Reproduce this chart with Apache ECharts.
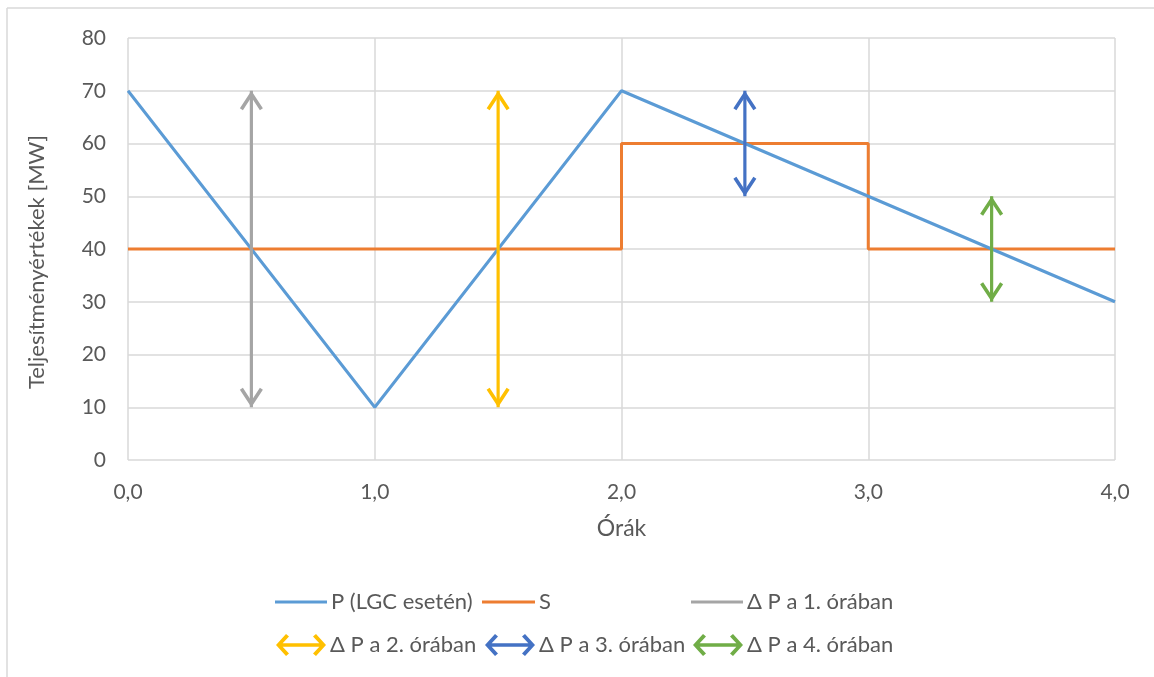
<!DOCTYPE html>
<html>
<head>
<meta charset="utf-8">
<script src="https://cdn.jsdelivr.net/npm/echarts@6/dist/echarts.min.js"></script>
<style>
html,body{margin:0;padding:0;background:#fff;}
#chart{width:1154px;height:677px;}
</style>
</head>
<body>
<div id="chart"></div>
<script>
// ---- data ----
var seriesNames = ['P (LGC esetén)', 'S', 'Δ P a 1. órában', 'Δ P a 2. órában', 'Δ P a 3. órában', 'Δ P a 4. órában'];
var pData = [[0, 70], [1, 10], [2, 70], [4, 30]];
var sData = [[0, 40], [2, 40], [2, 60], [3, 60], [3, 40], [4, 40]];
var arrow1 = [[0.5, 10], [0.5, 70]];
var arrow2 = [[1.5, 10], [1.5, 70]];
var arrow3 = [[2.5, 50], [2.5, 70]];
var arrow4 = [[3.5, 30], [3.5, 50]];
var xTickLabels = ['0,0', '1,0', '2,0', '3,0', '4,0'];
var yTickLabels = ['0', '10', '20', '30', '40', '50', '60', '70', '80'];
var xTitle = 'Órák';
var yTitle = 'Teljesítményértékek [MW]';

var colors = ['#5b9bd5', '#ed7d31', '#a5a5a5', '#ffc000', '#4472c4', '#70ad47'];
var FONT = 'Lato';
var TXT = '#595959';
var GRIDC = '#d9d9d9';

var chevron = 'path://M11.5,0 L23,17.5 L20,19.5 L11.5,6.5 L3,19.5 L0,17.5 Z';
var dblArrow = 'path://M0,11 L10,0 L13,2.6 L5,11 L13,19.4 L10,22 Z M50,11 L40,22 L37,19.4 L45,11 L37,2.6 L40,0 Z M2,9.3 L48,9.3 L48,12.7 L2,12.7 Z';

function arrowSeries(name, pts, color) {
  return {
    name: name, type: 'line', color: color,
    lineStyle: {width: 3.2, color: color},
    itemStyle: {color: color},
    symbol: chevron, symbolSize: [23, 19.5], symbolKeepAspect: false,
    showSymbol: true, silent: true,
    data: [
      {value: pts[0], symbolRotate: 180, symbolOffset: [0, '-50%']},
      {value: pts[1], symbolRotate: 0, symbolOffset: [0, '50%']}
    ],
    z: 3
  };
}

function legendAt(name, left, top, icon, w, h) {
  return {
    data: [{name: name, icon: icon}],
    left: left, top: top, padding: 0,
    itemWidth: w, itemHeight: h, itemGap: 0,
    selectedMode: false,
    textStyle: {fontFamily: FONT, fontSize: 22, lineHeight: 24, color: TXT, padding: [0, 0, 0, -1]}
  };
}

var chart = echarts.init(document.getElementById('chart'));
chart.setOption({
  animation: false,
  backgroundColor: '#fff',
  textStyle: {fontFamily: FONT},
  grid: {left: 128, right: 39, top: 38, bottom: 217, containLabel: false},
  xAxis: {
    type: 'value', min: 0, max: 4, interval: 1,
    name: xTitle, nameLocation: 'middle', nameGap: 57,
    nameTextStyle: {fontFamily: FONT, fontSize: 23, color: TXT},
    axisLine: {show: false}, axisTick: {show: false},
    axisLabel: {fontFamily: FONT, fontSize: 21, color: TXT, margin: 22,
      formatter: function (v) { return xTickLabels[Math.round(v)]; }},
    splitLine: {show: true, lineStyle: {color: GRIDC, width: 1.5}}
  },
  yAxis: {
    type: 'value', min: 0, max: 80, interval: 10,
    name: yTitle, nameLocation: 'middle', nameGap: 80, nameRotate: 90,
    nameTextStyle: {fontFamily: FONT, fontSize: 22, color: TXT, padding: [0, 26, 0, 0]},
    axisLine: {show: false}, axisTick: {show: false},
    axisLabel: {fontFamily: FONT, fontSize: 21, color: TXT, margin: 22,
      formatter: function (v) { return yTickLabels[Math.round(v / 10)]; }},
    splitLine: {show: true, lineStyle: {color: GRIDC, width: 1.5}}
  },
  legend: [
    legendAt(seriesNames[0], 275, 590, 'rect', 52, 3),
    legendAt(seriesNames[1], 482, 590, 'rect', 53, 3),
    legendAt(seriesNames[2], 691, 590, 'rect', 52, 3),
    legendAt(seriesNames[3], 276, 633, dblArrow, 50, 22),
    legendAt(seriesNames[4], 485, 633, dblArrow, 50, 22),
    legendAt(seriesNames[5], 693, 633, dblArrow, 50, 22)
  ],
  graphic: [
    {type: 'line', shape: {x1: 7, y1: 8, x2: 1154, y2: 8}, style: {stroke: GRIDC, lineWidth: 1.5}, silent: true},
    {type: 'line', shape: {x1: 7, y1: 8, x2: 7, y2: 677}, style: {stroke: GRIDC, lineWidth: 1.5}, silent: true}
  ],
  series: [
    {name: seriesNames[0], type: 'line', color: colors[0], data: pData, showSymbol: false,
      lineStyle: {width: 3, color: colors[0]}, z: 2},
    {name: seriesNames[1], type: 'line', color: colors[1], data: sData, showSymbol: false,
      lineStyle: {width: 3, color: colors[1]}, z: 1},
    arrowSeries(seriesNames[2], arrow1, colors[2]),
    arrowSeries(seriesNames[3], arrow2, colors[3]),
    arrowSeries(seriesNames[4], arrow3, colors[4]),
    arrowSeries(seriesNames[5], arrow4, colors[5])
  ]
});
</script>
</body>
</html>
